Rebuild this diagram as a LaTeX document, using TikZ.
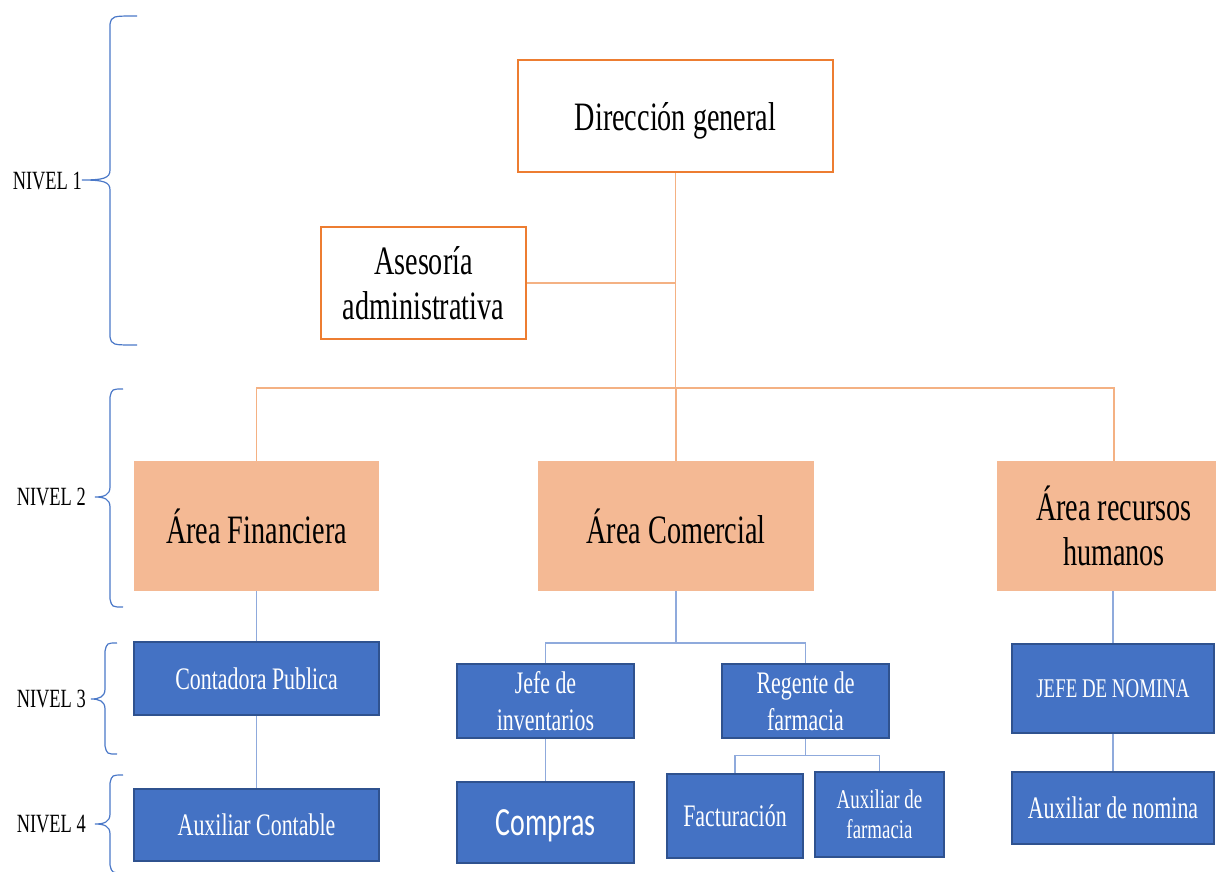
\documentclass[tikz,border=0pt]{standalone}
\usepackage{fontspec}
\setmainfont{Liberation Serif}[FakeStretch=0.7]
\newfontfamily\calfont{Carlito}[FakeStretch=0.7]
\newcommand\szA{\fontsize{40.3}{45}\selectfont}
\newcommand\szB{\fontsize{31.3}{37}\selectfont}
\newcommand\szC{\fontsize{27}{30}\selectfont}
\newcommand\szD{\fontsize{26.3}{30}\selectfont}
\definecolor{oborder}{HTML}{ED7D31}
\definecolor{afill}{HTML}{F4B994}
\definecolor{bfill}{HTML}{4472C4}
\definecolor{bborder}{HTML}{2F528F}
\definecolor{oline}{HTML}{F4B183}
\definecolor{bline}{HTML}{8FAADC}
\definecolor{brc}{HTML}{4A78C8}
\newcommand\lvlbrace[6]{%
  \draw[bracestyle] (#3,#4) .. controls (#2+2,#4) .. (#2,#4+8) -- (#2,#5-10)
    .. controls (#2,#5-2) and (#2-6,#5) .. (#1,#5)
    .. controls (#2-6,#5) and (#2,#5+2) .. (#2,#5+10) -- (#2,#6-8)
    .. controls (#2+2,#6) .. (#3,#6);}
\tikzset{
  obox/.style={draw=oborder, line width=2pt, fill=white, rectangle, inner sep=0pt, align=center, font=\szA, text=black},
  abox/.style={fill=afill, rectangle, inner sep=0pt, align=center, font=\szA, text=black},
  bbox/.style={draw=bborder, line width=1.5pt, fill=bfill, rectangle, inner sep=0pt, align=center, font=\szB, text=white},
  sl/.style={text depth=0pt},
  oconn/.style={draw=oline, line width=1.4pt},
  bconn/.style={draw=bline, line width=1.4pt},
  bracestyle/.style={draw=brc, line width=1.2pt},
  lvl/.style={inner sep=0pt, font=\szD, text=black, anchor=east}
}
\begin{document}
\begin{tikzpicture}[x=1pt,y=-1pt]
\clip (0,0) rectangle (1216,871);
\fill[white] (0,0) rectangle (1216,871);
% level 1
\node[obox, sl, minimum width=315pt, minimum height=112pt] (dg) at (675.5,116) {Dirección general};
\node[obox, minimum width=205pt, minimum height=112pt] (ase) at (423.5,283) {Asesoría\\administrativa};
% level 2
\node[abox, sl, minimum width=245pt, minimum height=130pt] (af) at (256.5,526) {Área Financiera};
\node[abox, sl, minimum width=276pt, minimum height=130pt] (ac) at (676,526) {Área Comercial};
\node[abox, minimum width=234pt, minimum height=130pt] (arh) at (1114,526) {Área recursos\\humanos};
% level 3
\node[bbox, sl, minimum width=245pt, minimum height=73pt] (cp) at (256.5,678.5) {Contadora Publica};
\node[bbox, minimum width=177pt, minimum height=74pt] (ji) at (545.5,701) {Jefe de\\inventarios};
\node[bbox, minimum width=167pt, minimum height=74pt] (rf) at (805.5,701) {Regente de\\farmacia};
\node[bbox, sl, minimum width=202pt, minimum height=89pt, font=\szC] (jn) at (1113,688.5) {JEFE DE NOMINA};
% level 4
\node[bbox, sl, minimum width=245pt, minimum height=72pt] (ax) at (256.5,825) {Auxiliar Contable};
\node[bbox, sl, minimum width=177pt, minimum height=81pt, font=\calfont\fontsize{40}{45}\selectfont] (co) at (545.5,822.5) {Compras};
\node[bbox, sl, minimum width=136pt, minimum height=84pt] (fa) at (735,816) {Facturación};
\node[bbox, minimum width=129pt, minimum height=85pt, font=\szC] (afm) at (879.5,814.5) {Auxiliar de\\farmacia};
\node[bbox, sl, minimum width=202pt, minimum height=72pt] (an) at (1113,808) {Auxiliar de nomina};
% connectors orange
\coordinate (bus) at (675.5,388);
\draw[oconn] (dg.south) -- (bus);
\draw[oconn] (ase.east) -- (ase.east -| dg.south);
\draw[oconn] (af.north) |- (bus) -| (arh.north);
\draw[oconn] (ac.north |- bus) -- (ac.north);
% connectors blue
\draw[bconn] (cp.north |- af.south) -- (cp.north);
\draw[bconn] (cp.south) -- (ax.north);
\coordinate (cbus) at (676,643);
\draw[bconn] (ac.south) -- (cbus);
\draw[bconn] (ji.north) |- (cbus) -| (rf.north);
\draw[bconn] (ji.south) -- (co.north);
\coordinate (rbus) at (805.5,755.5);
\draw[bconn] (rf.south) -- (rbus);
\draw[bconn] (fa.north) |- (rbus) -| (afm.north);
\draw[bconn] (jn.north |- arh.south) -- (jn.north);
\draw[bconn] (jn.south) -- (an.north);
% level labels and braces
\node[lvl] (n1) at (82,181) {NIVEL 1};
\node[lvl] (n2) at (86,497) {NIVEL 2};
\node[lvl] (n3) at (86,699) {NIVEL 3};
\node[lvl] (n4) at (86,824) {NIVEL 4};
\lvlbrace{82}{110}{137}{16}{180}{345}
\lvlbrace{95}{110}{123}{389}{497}{607}
\lvlbrace{91}{105}{117}{643}{699}{754}
\lvlbrace{95}{110}{123}{775}{824}{873}
\end{tikzpicture}
\end{document}
